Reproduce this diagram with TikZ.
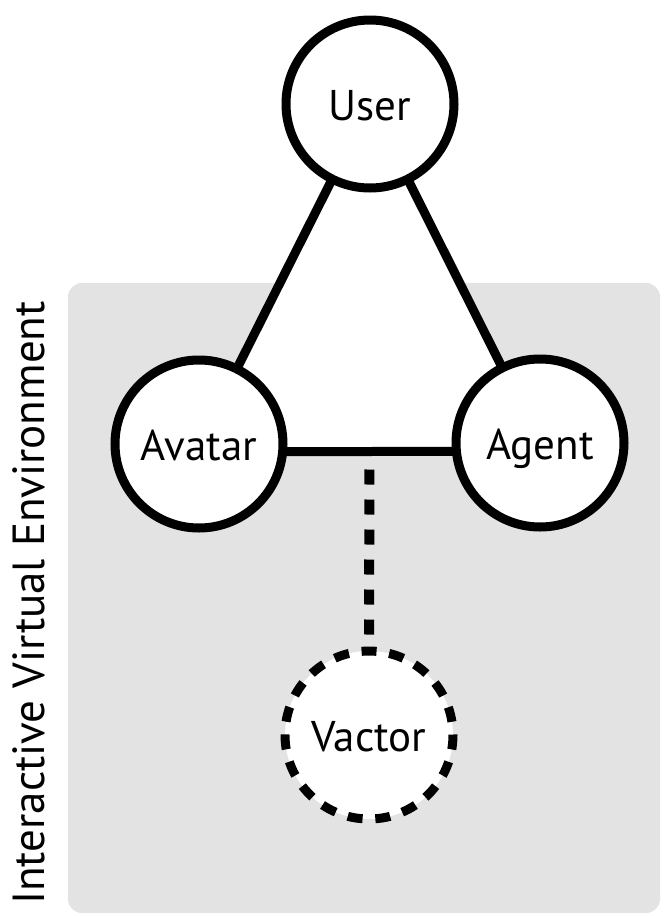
\documentclass[tikz,border=0pt]{standalone}
\usepackage{fontspec}
\setmainfont{PT Sans}
\usetikzlibrary{backgrounds,calc}
\definecolor{envgray}{HTML}{E3E3E3}
\tikzset{
  actor/.style={circle, draw=black, line width=9pt, fill=white,
    minimum size=168pt, inner sep=0pt, text height=32pt, text depth=0pt,
    font=\fontsize{43}{50}\selectfont},
  virtualactor/.style={actor, dash pattern=on 15pt off 12.78pt, dash phase=14.5pt},
  link/.style={line width=9pt, draw=black},
  weaklink/.style={line width=10pt, draw=black, dash pattern=on 15pt off 15pt, dash phase=12pt}
}
\begin{document}
\begin{tikzpicture}[x=1pt, y=-1pt]
  \useasboundingbox (0,0) rectangle (665,916);

  % actors
  \node[actor] (user)   at (370,104) {User};
  \node[actor] (avatar) at (199,444) {Avatar};
  \node[actor] (agent)  at (540,443) {Agent};
  \node[virtualactor] (vactor) at (369,735) {Vactor};

  % environment label
  \node[rotate=90, anchor=base west, inner sep=0pt,
        font=\fontsize{45}{52}\selectfont] (envlabel) at (44,905)
        {Interactive Virtual Environment};

  \begin{pgfonlayer}{background}
    % environment panel
    \fill[envgray, rounded corners=14pt] (68,283) rectangle (660,913);
    % connection triangle
    \coordinate (hl) at ([yshift=-8pt]avatar.center);
    \coordinate (hr) at ([yshift=-8pt]agent.center);
    \coordinate (mid) at ($(hl)!0.5!(hr)$);
    \fill[white] (user.center) -- (hl) -- (hr) -- cycle;
    \draw[link] (user.center) -- (avatar.center);
    \draw[link] (user.center) -- (agent.center);
    \draw[link] (hl) -- (hr);
    \draw[weaklink] (mid) -- (vactor.north);
  \end{pgfonlayer}
\end{tikzpicture}
\end{document}
